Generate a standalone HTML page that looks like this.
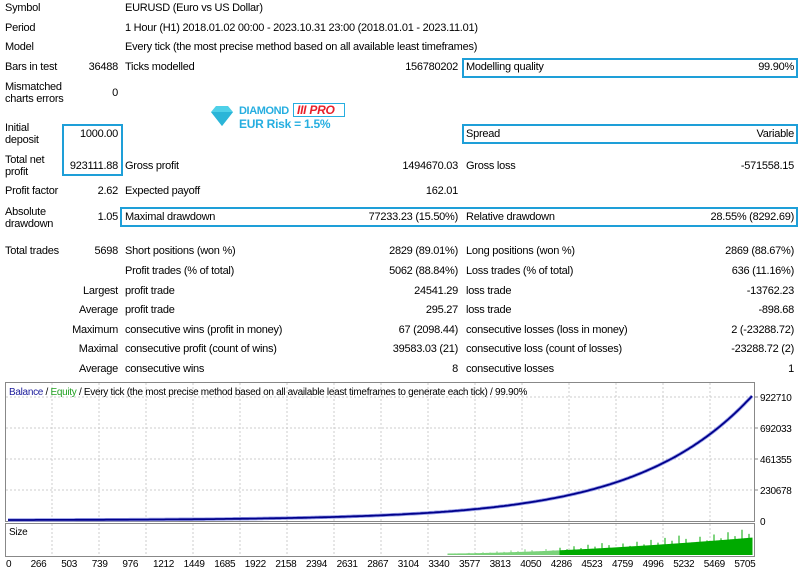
<!DOCTYPE html>
<html><head><meta charset="utf-8"><style>
body{margin:0;width:800px;height:572px;background:#fff;font-family:"Liberation Sans",sans-serif;font-size:11px;letter-spacing:-0.25px;color:#000;position:relative;overflow:hidden}
.t{position:absolute;white-space:nowrap;line-height:12px}
.r{text-align:right}
.box{position:absolute;border:2px solid #1e9fd8;box-sizing:border-box}
</style></head><body>
<div class="t" style="left:5px;top:2px">Symbol</div><div class="t" style="left:125px;top:2px">EURUSD (Euro vs US Dollar)</div>
<div class="t" style="left:5px;top:22px">Period</div><div class="t" style="left:125px;top:22px">1 Hour (H1) 2018.01.02 00:00 - 2023.10.31 23:00 (2018.01.01 - 2023.11.01)</div>
<div class="t" style="left:5px;top:41px">Model</div><div class="t" style="left:125px;top:41px">Every tick (the most precise method based on all available least timeframes)</div>
<div class="t" style="left:5px;top:61px">Bars in test</div><div class="t r" style="right:682px;top:61px">36488</div><div class="t" style="left:125px;top:61px">Ticks modelled</div><div class="t r" style="right:342px;top:61px">156780202</div>
<div class="box" style="left:462px;top:58px;width:336px;height:20px"></div>
<div class="t" style="left:466px;top:61px">Modelling quality</div><div class="t r" style="right:6px;top:61px">99.90%</div>
<div class="t" style="left:5px;top:81px">Mismatched<br>charts errors</div><div class="t r" style="right:682px;top:87px">0</div>
<div class="t" style="left:5px;top:122px">Initial<br>deposit</div><div class="t r" style="right:682px;top:128px">1000.00</div>
<div class="box" style="left:62px;top:124px;width:61px;height:52px"></div>
<div class="box" style="left:462px;top:124px;width:336px;height:20px"></div>
<div class="t" style="left:466px;top:128px">Spread</div><div class="t r" style="right:6px;top:128px">Variable</div>
<div class="t" style="left:5px;top:154px">Total net<br>profit</div><div class="t r" style="right:682px;top:160px">923111.88</div>
<div class="t" style="left:125px;top:160px">Gross profit</div><div class="t r" style="right:342px;top:160px">1494670.03</div><div class="t" style="left:466px;top:160px">Gross loss</div><div class="t r" style="right:6px;top:160px">-571558.15</div>
<div class="t" style="left:5px;top:185px">Profit factor</div><div class="t r" style="right:682px;top:185px">2.62</div><div class="t" style="left:125px;top:185px">Expected payoff</div><div class="t r" style="right:342px;top:185px">162.01</div>
<div class="t" style="left:5px;top:206px">Absolute<br>drawdown</div><div class="t r" style="right:682px;top:211px">1.05</div>
<div class="box" style="left:120px;top:207px;width:678px;height:20px"></div>
<div class="t" style="left:125px;top:211px">Maximal drawdown</div><div class="t r" style="right:342px;top:211px">77233.23 (15.50%)</div><div class="t" style="left:466px;top:211px">Relative drawdown</div><div class="t r" style="right:6px;top:211px">28.55% (8292.69)</div>
<div class="t" style="left:5px;top:245px">Total trades</div><div class="t r" style="right:682px;top:245px">5698</div><div class="t" style="left:125px;top:245px">Short positions (won %)</div><div class="t r" style="right:342px;top:245px">2829 (89.01%)</div><div class="t" style="left:466px;top:245px">Long positions (won %)</div><div class="t r" style="right:6px;top:245px">2869 (88.67%)</div>
<div class="t" style="left:125px;top:265px">Profit trades (% of total)</div><div class="t r" style="right:342px;top:265px">5062 (88.84%)</div><div class="t" style="left:466px;top:265px">Loss trades (% of total)</div><div class="t r" style="right:6px;top:265px">636 (11.16%)</div>
<div class="t r" style="right:682px;top:285px">Largest</div><div class="t" style="left:125px;top:285px">profit trade</div><div class="t r" style="right:342px;top:285px">24541.29</div><div class="t" style="left:466px;top:285px">loss trade</div><div class="t r" style="right:6px;top:285px">-13762.23</div>
<div class="t r" style="right:682px;top:304px">Average</div><div class="t" style="left:125px;top:304px">profit trade</div><div class="t r" style="right:342px;top:304px">295.27</div><div class="t" style="left:466px;top:304px">loss trade</div><div class="t r" style="right:6px;top:304px">-898.68</div>
<div class="t r" style="right:682px;top:324px">Maximum</div><div class="t" style="left:125px;top:324px">consecutive wins (profit in money)</div><div class="t r" style="right:342px;top:324px">67 (2098.44)</div><div class="t" style="left:466px;top:324px">consecutive losses (loss in money)</div><div class="t r" style="right:6px;top:324px">2 (-23288.72)</div>
<div class="t r" style="right:682px;top:343px">Maximal</div><div class="t" style="left:125px;top:343px">consecutive profit (count of wins)</div><div class="t r" style="right:342px;top:343px">39583.03 (21)</div><div class="t" style="left:466px;top:343px">consecutive loss (count of losses)</div><div class="t r" style="right:6px;top:343px">-23288.72 (2)</div>
<div class="t r" style="right:682px;top:363px">Average</div><div class="t" style="left:125px;top:363px">consecutive wins</div><div class="t r" style="right:342px;top:363px">8</div><div class="t" style="left:466px;top:363px">consecutive losses</div><div class="t r" style="right:6px;top:363px">1</div>
<!-- logo -->
<svg style="position:absolute;left:209px;top:105px" width="26" height="22"><polygon points="2,7 7,1 19,1 24,7 13,21" fill="#4fd0e8"/><polygon points="2,7 24,7 13,21" fill="#2bb5d8"/></svg>
<div class="t" style="left:239px;top:105px;font-weight:bold;color:#26aee0;font-size:11px;letter-spacing:-0.4px">DIAMOND</div>
<div style="position:absolute;left:293px;top:103px;width:52px;height:14px;border:1px solid #26aee0;box-sizing:border-box"></div>
<div class="t" style="left:297px;top:104px;font-weight:bold;font-style:italic;color:#e8202a;font-size:12px">III PRO</div>
<div class="t" style="left:239px;top:118px;font-weight:bold;color:#26aee0;font-size:12px">EUR Risk = 1.5%</div>
<svg id="ch" style="position:absolute;left:0;top:0" width="800" height="572"></svg>
<script>
var s='';
s+='<rect x="5.5" y="382.5" width="749" height="139" fill="#fff" stroke="#888"/>';
s+='<rect x="5.5" y="523.5" width="749" height="33" fill="#fff" stroke="#888"/>';
for(var x=52;x<754;x+=47){s+='<line x1="'+x+'" y1="383" x2="'+x+'" y2="521" stroke="#ccc" stroke-dasharray="2,2"/><line x1="'+x+'" y1="524" x2="'+x+'" y2="556" stroke="#ccc" stroke-dasharray="2,2"/>';}
var ys=[397,428,459,490],yl=['922710','692033','461355','230678'];
for(var i=0;i<4;i++){s+='<line x1="6" y1="'+ys[i]+'" x2="754" y2="'+ys[i]+'" stroke="#ccc" stroke-dasharray="2,2"/><line x1="754" y1="'+ys[i]+'" x2="758" y2="'+ys[i]+'" stroke="#888"/><text x="760" y="'+(ys[i]+4)+'" font-size="10" font-family="Liberation Sans" letter-spacing="-0.3">'+yl[i]+'</text>';}
s+='<text x="760" y="525" font-size="10" font-family="Liberation Sans">0</text>';
var xl=[0,266,503,739,976,1212,1449,1685,1922,2158,2394,2631,2867,3104,3340,3577,3813,4050,4286,4523,4759,4996,5232,5469,5705];
for(var i=0;i<xl.length;i++){var xx=8+i*30.6;s+='<text x="'+(i==0?6:xx-8)+'" y="567" font-size="10" font-family="Liberation Sans" letter-spacing="-0.3">'+xl[i]+'</text>';}
for(var x=448;x<753;x++){var f=(x-448)/305;var h=1.5+Math.pow(f,1.6)*16+(x%7==0?((x*37)%11)*f:0);var c=x<560?'#7ad27a':'#00aa00';s+='<line x1="'+x+'" y1="555" x2="'+x+'" y2="'+(555-h)+'" stroke="'+c+'"/>';}
var p=[];var K=6.5;for(var x=8;x<=752;x+=2){var t=(x-8)/744;var v=Math.exp(K*t)-1;var y=520-v/(Math.exp(K)-1)*124;p.push(x+','+y.toFixed(1));}
s+='<polyline points="'+p.join(' ')+'" fill="none" stroke="#9aa0e8" stroke-width="3.5"/>';
s+='<polyline points="'+p.join(' ')+'" fill="none" stroke="#00008b" stroke-width="1.8"/>';
s+='<text x="9" y="395" font-size="10" font-family="Liberation Sans" letter-spacing="-0.3"><tspan fill="#1a1a9a">Balance</tspan> / <tspan fill="#22a022">Equity</tspan> / Every tick (the most precise method based on all available least timeframes to generate each tick) / 99.90%</text>';
s+='<text x="9" y="535" font-size="10" font-family="Liberation Sans">Size</text>';
document.getElementById('ch').innerHTML=s;
</script>
</body></html>
